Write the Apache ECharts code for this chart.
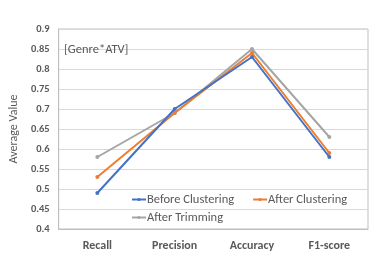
<!DOCTYPE html>
<html><head><meta charset="utf-8">
<script src="https://cdn.jsdelivr.net/npm/echarts@6/dist/echarts.min.js"></script>
<style>html,body{margin:0;padding:0;background:#fff}#c{width:374px;height:277px}</style>
</head><body><div id="c"></div>
<script>
const categories = ['Recall', 'Precision', 'Accuracy', 'F1-score'];
const beforeClustering = [0.49, 0.70, 0.83, 0.58];
const afterClustering = [0.53, 0.69, 0.84, 0.59];
const afterTrimming = [0.58, 0.69, 0.85, 0.63];
const seriesNames = ['Before Clustering', 'After Clustering', 'After Trimming'];
const colors = ['#4472C4', '#ED7D31', '#A5A5A5'];
const font = 'Calibri, Carlito, "Liberation Sans", "DejaVu Sans", sans-serif';

const chart = echarts.init(document.getElementById('c'), null, {renderer: 'canvas'});
const mk = (name, data, i, z) => ({
  name, type: 'line', data, z,
  symbol: 'circle', symbolSize: 4, showSymbol: true,
  itemStyle: {color: colors[i]},
  lineStyle: {color: colors[i], width: 2},
  emphasis: {disabled: true}, animation: false
});
chart.setOption({
  animation: false,
  grid: {left: 49, right: 6, top: 29, bottom: 48, show: true, borderColor: '#BFBFBF', borderWidth: 1},
  title: {text: '[Genre*ATV]', left: 59, top: 38, textStyle: {fontSize: 12.5, fontWeight: 'normal', color: '#595959', fontFamily: font}},
  legend: [
    {data: [seriesNames[0], seriesNames[1]], left: 131, top: 193, itemWidth: 14, itemHeight: 4, itemGap: 18,
     textStyle: {fontSize: 12.5, color: '#595959', fontFamily: font, padding: [0,0,0,-4]}, padding: 0},
    {data: [seriesNames[2]], left: 131, top: 211, itemWidth: 14, itemHeight: 4,
     textStyle: {fontSize: 12.5, color: '#595959', fontFamily: font, padding: [0,0,0,-4]}, padding: 0}
  ],
  xAxis: {type: 'category', data: categories, boundaryGap: true,
    axisLine: {show: true, lineStyle: {color: '#BFBFBF'}}, axisTick: {show: false},
    axisLabel: {fontSize: 12, fontWeight: 'bold', color: '#595959', fontFamily: font, margin: 11}},
  yAxis: {type: 'value', min: 0.4, max: 0.9, interval: 0.05,
    name: 'Average Value', nameLocation: 'middle', nameGap: 31, nameRotate: 90,
    nameTextStyle: {fontSize: 12, color: '#595959', fontFamily: font},
    axisLine: {show: true, lineStyle: {color: '#BFBFBF'}}, axisTick: {show: false},
    splitLine: {lineStyle: {color: '#D9D9D9'}},
    axisLabel: {fontSize: 10.5, fontWeight: 'bold', color: '#595959', fontFamily: font, margin: 9,
      formatter: v => String(parseFloat(v.toFixed(2)))}},
  series: [
    mk(seriesNames[0], beforeClustering, 0, 4),
    mk(seriesNames[1], afterClustering, 1, 3),
    mk(seriesNames[2], afterTrimming, 2, 2)
  ]
});
</script></body></html>
